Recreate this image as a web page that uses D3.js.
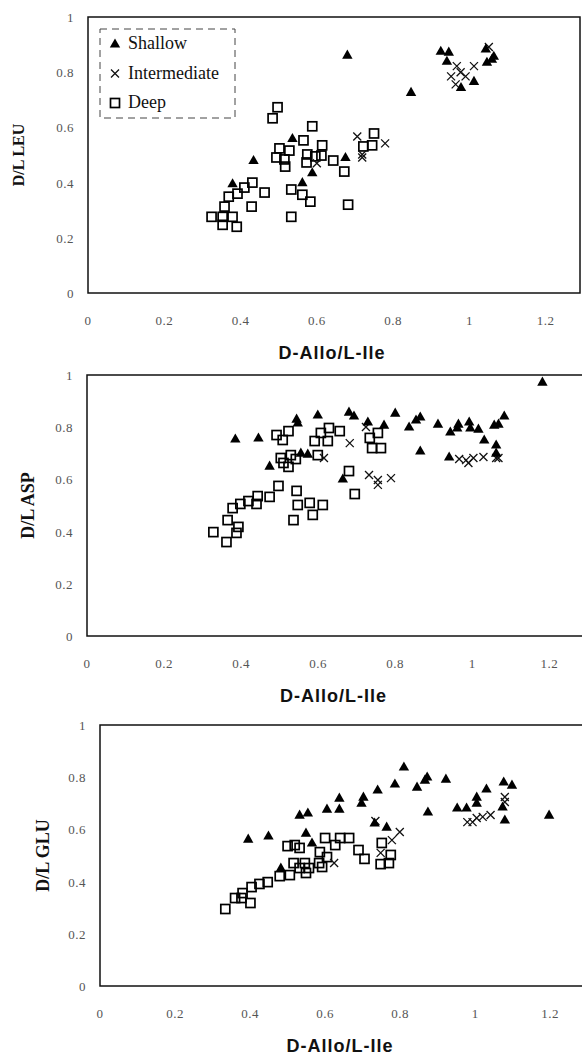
<!DOCTYPE html>
<html>
<head>
<meta charset="utf-8">
<script src="https://cdn.jsdelivr.net/npm/d3@7"></script>
<style>
  body { margin: 0; background: #fff; }
  svg { display: block; }
  .tick-label { font-family: "Liberation Serif", "DejaVu Serif", serif; font-size: 13px; fill: #555; letter-spacing: 0.5px; }
  .ytitle { font-family: "Liberation Serif", serif; font-weight: bold; fill: #111; }
  .xtitle { font-family: "Liberation Sans", Arial, sans-serif; font-weight: bold; font-size: 18px; letter-spacing: 1px; fill: #111; }
  .legend text { font-family: "Liberation Serif", serif; font-size: 18px; fill: #111; }
</style>
</head>
<body>
<div id="chart"></div>
<script>
// values, [D-Allo/L-Ile, D/L]
var xTicks = [0, 0.2, 0.4, 0.6, 0.8, 1, 1.2];
var yTicks = [0, 0.2, 0.4, 0.6, 0.8, 1];
var groups = ["Shallow", "Intermediate", "Deep"];

// D/L LEU
var leuShallow = [[0.536,0.56],[0.434,0.48],[0.379,0.396],[0.588,0.436],[0.562,0.40],[0.675,0.491],
  [0.68,0.862],[0.847,0.727],[0.925,0.876],[0.946,0.873],[0.941,0.84],[0.978,0.745],[1.012,0.767],
  [1.043,0.884],[1.064,0.858],[1.046,0.836],[1.059,0.847]];
var leuInter = [[0.706,0.567],[0.719,0.491],[0.779,0.542],[0.719,0.502],[0.967,0.822],[0.977,0.80],
  [0.952,0.785],[0.99,0.785],[1.012,0.822],[0.964,0.756],[1.051,0.891],[0.60,0.47]];
var leuDeep = [[0.497,0.673],[0.484,0.633],[0.588,0.604],[0.565,0.553],[0.502,0.524],[0.528,0.516],
  [0.494,0.491],[0.515,0.484],[0.517,0.458],[0.575,0.502],[0.596,0.495],[0.614,0.535],[0.573,0.473],
  [0.612,0.498],[0.643,0.48],[0.672,0.44],[0.722,0.531],[0.682,0.32],[0.533,0.375],[0.562,0.356],
  [0.583,0.331],[0.533,0.276],[0.41,0.382],[0.431,0.40],[0.392,0.36],[0.369,0.349],[0.463,0.364],
  [0.429,0.313],[0.358,0.313],[0.324,0.276],[0.353,0.276],[0.379,0.276],[0.353,0.247],[0.39,0.24],
  [0.75,0.578],[0.745,0.535]];

// D/L ASP
var aspShallow = [[0.385,0.755],[0.445,0.759],[0.544,0.831],[0.547,0.816],[0.599,0.847],[0.68,0.858],
  [0.693,0.843],[0.729,0.82],[0.771,0.808],[0.474,0.651],[0.555,0.701],[0.573,0.697],[0.664,0.602],
  [1.182,0.973],[0.80,0.854],[0.836,0.801],[0.854,0.828],[0.865,0.839],[0.911,0.812],[0.943,0.782],
  [0.961,0.797],[0.964,0.812],[0.992,0.82],[0.995,0.797],[1.016,0.793],[1.031,0.751],[1.057,0.808],
  [1.068,0.812],[1.083,0.843],[0.865,0.709],[0.94,0.686],[1.062,0.732],[1.062,0.701]];
var aspInter = [[0.682,0.739],[0.615,0.682],[0.732,0.617],[0.755,0.598],[0.755,0.579],[0.724,0.801],
  [0.966,0.678],[0.984,0.674],[0.99,0.663],[1.003,0.682],[1.029,0.686],[1.062,0.682],[1.068,0.682],
  [0.789,0.605]];
var aspDeep = [[0.492,0.77],[0.523,0.785],[0.508,0.751],[0.591,0.747],[0.625,0.747],[0.628,0.797],
  [0.656,0.785],[0.607,0.778],[0.599,0.693],[0.503,0.682],[0.529,0.693],[0.542,0.678],[0.51,0.663],
  [0.523,0.648],[0.68,0.632],[0.695,0.544],[0.734,0.759],[0.755,0.778],[0.74,0.72],[0.763,0.72],
  [0.497,0.575],[0.474,0.533],[0.443,0.536],[0.44,0.506],[0.419,0.517],[0.398,0.506],[0.378,0.49],
  [0.544,0.556],[0.547,0.502],[0.578,0.51],[0.612,0.502],[0.586,0.464],[0.536,0.444],[0.365,0.444],
  [0.393,0.418],[0.388,0.395],[0.328,0.398],[0.362,0.36]];

// D/L GLU
var gluShallow = [[0.81,0.839],[0.872,0.801],[0.866,0.789],[0.922,0.793],[0.786,0.774],[0.845,0.762],
  [0.74,0.751],[0.702,0.724],[0.697,0.701],[0.638,0.72],[0.638,0.678],[0.605,0.678],[0.532,0.655],
  [0.554,0.663],[0.395,0.563],[0.449,0.575],[0.549,0.586],[0.565,0.548],[0.482,0.452],[0.874,0.667],
  [0.952,0.682],[0.977,0.682],[1.004,0.724],[1.004,0.701],[1.03,0.755],[1.076,0.782],[1.098,0.77],
  [1.073,0.686],[1.079,0.636],[1.197,0.655],[0.732,0.625],[0.764,0.609]];
var gluInter = [[0.734,0.632],[0.799,0.59],[0.778,0.559],[0.748,0.51],[0.624,0.471],[0.979,0.628],
  [1.004,0.644],[1.02,0.648],[1.041,0.655],[1.079,0.705],[1.079,0.724],[0.993,0.628]];
var gluDeep = [[0.60,0.567],[0.64,0.567],[0.664,0.567],[0.627,0.54],[0.50,0.536],[0.519,0.54],
  [0.532,0.529],[0.586,0.513],[0.689,0.521],[0.705,0.487],[0.605,0.494],[0.584,0.471],[0.592,0.456],
  [0.516,0.471],[0.546,0.471],[0.557,0.452],[0.532,0.452],[0.549,0.433],[0.506,0.425],[0.479,0.421],
  [0.751,0.548],[0.775,0.502],[0.748,0.467],[0.77,0.471],[0.447,0.398],[0.425,0.391],[0.404,0.379],
  [0.38,0.356],[0.36,0.337],[0.377,0.337],[0.401,0.318],[0.334,0.295]];

var svg = d3.select("#chart").append("svg").attr("width", 582).attr("height", 1056);

var panels = [
  {ylab: "D/L LEU", ysize: 16, left: 88, top: 17, right: 580, bottom: 293, ytx: 18,
   data: [leuShallow, leuInter, leuDeep], legend: true},
  {ylab: "D/L ASP", ysize: 18, left: 87, top: 375, right: 584, bottom: 636, ytx: 28,
   data: [aspShallow, aspInter, aspDeep]},
  {ylab: "D/L GLU", ysize: 18, left: 100, top: 725, right: 584, bottom: 986, ytx: 43,
   data: [gluShallow, gluInter, gluDeep]}
];

var tri = "M0,-5.5L5.2,3.6L-5.2,3.6Z";
var cross = "M-4,-4L4,4M-4,4L4,-4";

function drawMark(g, type, px, py) {
  if (type == 0) {
    g.append("path").attr("d", tri).attr("transform", "translate(" + px + "," + py + ")").attr("fill", "#000");
  } else if (type == 1) {
    g.append("path").attr("d", cross).attr("transform", "translate(" + px + "," + py + ")")
      .attr("stroke", "#111").attr("stroke-width", 1.3).attr("fill", "none");
  } else {
    g.append("rect").attr("x", px - 4.5).attr("y", py - 4.5).attr("width", 9).attr("height", 9)
      .attr("fill", "none").attr("stroke", "#000").attr("stroke-width", 1.7);
  }
}

panels.forEach(function(p) {
  var x = d3.scaleLinear().domain([0, 1.29]).range([p.left, p.right]);
  var y = d3.scaleLinear().domain([0, 1]).range([p.bottom, p.top]);
  var g = svg.append("g");

  g.append("rect").attr("x", p.left).attr("y", p.top)
    .attr("width", p.right - p.left).attr("height", p.bottom - p.top)
    .attr("fill", "none").attr("stroke", "#111").attr("stroke-width", 1.5);

  g.selectAll(".ylbl").data(yTicks).enter().append("text")
    .attr("class", "tick-label").attr("text-anchor", "end")
    .attr("x", p.left - 14).attr("y", function(d) { return y(d) + 5; })
    .text(function(d) { return d; });

  g.selectAll(".xlbl").data(xTicks).enter().append("text")
    .attr("class", "tick-label").attr("text-anchor", "middle")
    .attr("x", function(d) { return x(d); }).attr("y", p.bottom + 32)
    .text(function(d) { return d; });

  g.append("text").attr("class", "ytitle").style("font-size", p.ysize + "px")
    .attr("text-anchor", "middle")
    .attr("transform", "translate(" + (p.ytx + 6) + "," + y(0.5) + ") rotate(-90)")
    .text(p.ylab);

  g.append("text").attr("class", "xtitle").attr("text-anchor", "middle")
    .attr("x", x(0.64)).attr("y", p.bottom + 66)
    .text("D-Allo/L-Ile");

  // deep first, triangles on top
  [2, 1, 0].forEach(function(k) {
    p.data[k].forEach(function(d) { drawMark(g, k, x(d[0]), y(d[1])); });
  });

  if (p.legend) {
    var lg = g.append("g").attr("class", "legend");
    lg.append("rect").attr("x", p.left + 12).attr("y", p.top + 12).attr("width", 135).attr("height", 89)
      .attr("fill", "#fff").attr("stroke", "#444").attr("stroke-width", 1).attr("stroke-dasharray", "7,5");
    groups.forEach(function(name, i) {
      var ly = p.top + 27 + i * 29.5;
      drawMark(lg, i, p.left + 27, ly);
      lg.append("text").attr("x", p.left + 40).attr("y", ly + 5).text(name);
    });
  }
});
</script>
</body>
</html>
